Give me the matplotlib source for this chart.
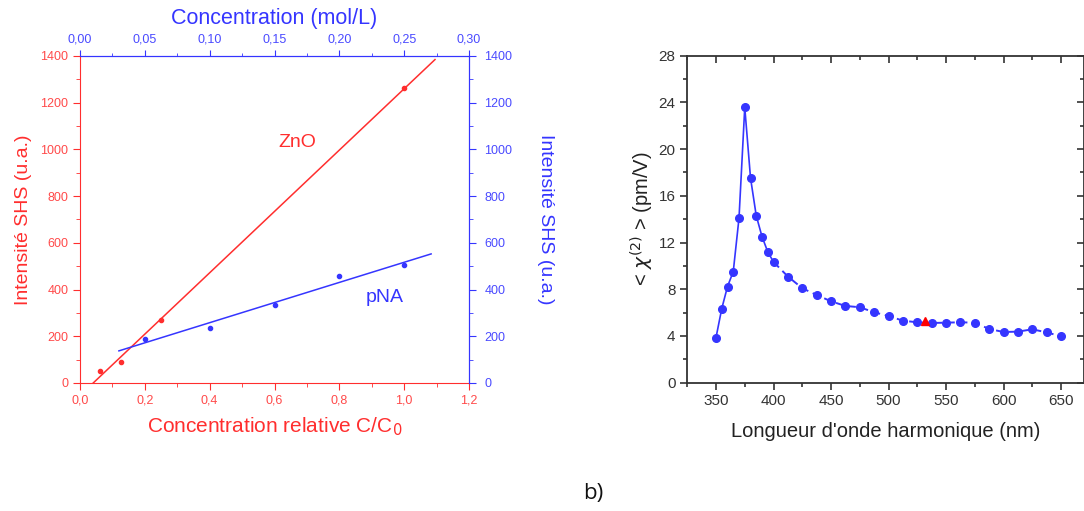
import matplotlib

matplotlib.use("Agg")
import matplotlib.pyplot as plt  # noqa: E402
import numpy as np  # noqa: E402
from matplotlib.ticker import MultipleLocator  # noqa: E402

plt.rcParams["font.family"] = ["Liberation Sans", "DejaVu Sans"]

RED = "#ff2e2e"
BLUE = "#3535ff"
RED_TXT = "#ff4a4a"
BLUE_TXT = "#4a4aff"

# --- left panel: SHS intensity vs relative concentration ---
zno_c = [0.0625, 0.125, 0.25, 1.0]
zno_i = [51, 90, 271, 1262]
pna_c = [0.2, 0.4, 0.6, 0.8, 1.0]
pna_i = [187, 235, 335, 459, 506]
zno_fit_range = [0.0, 1.095]
pna_fit_range = [0.12, 1.083]
c0_mol = 0.25  # C/C0 = 1 <-> 0.25 mol/L

rel_ticks = [0.0, 0.2, 0.4, 0.6, 0.8, 1.0, 1.2]
rel_labels = ["0,0", "0,2", "0,4", "0,6", "0,8", "1,0", "1,2"]
mol_ticks = [0.0, 0.05, 0.10, 0.15, 0.20, 0.25, 0.30]
mol_labels = ["0,00", "0,05", "0,10", "0,15", "0,20", "0,25", "0,30"]

# --- right panel: <chi(2)> vs harmonic wavelength ---
wl = [350, 355, 360, 365, 370, 375, 380, 385, 390, 395, 400,
      412.5, 425, 437.5, 450, 462.5, 475, 487.5, 500, 512.5, 525, 537.5,
      550, 562.5, 575, 587.5, 600, 612.5, 625, 637.5, 650]
chi = [3.86, 6.34, 8.23, 9.51, 14.09, 23.57, 17.54, 14.29, 12.51, 11.2, 10.34,
       9.09, 8.09, 7.51, 6.97, 6.57, 6.46, 6.03, 5.71, 5.31, 5.17, 5.11,
       5.14, 5.17, 5.14, 4.6, 4.34, 4.37, 4.57, 4.31, 3.97]
ref_wl = [532]
ref_chi = [5.31]
n_solid = 11  # solid line up to 400 nm, dashed afterwards

fig = plt.figure(figsize=(10.84, 5.11), dpi=100)

# left panel
ax = fig.add_axes([0.0738, 0.2505, 0.3589, 0.640])
ax.set_xlim(0, 1.2)
ax.set_ylim(0, 1400)
ax.plot(zno_c, zno_i, "o", color=RED, ms=3)
k, b = np.polyfit(zno_c, zno_i, 1)
xs = np.array(zno_fit_range)
ax.plot(xs, k * xs + b, color=RED, lw=1.1)
ax.set_xticks(rel_ticks)
ax.set_xticklabels(rel_labels)
ax.xaxis.set_minor_locator(MultipleLocator(0.1))
ax.yaxis.set_major_locator(MultipleLocator(200))
ax.yaxis.set_minor_locator(MultipleLocator(100))
ax.tick_params(which="both", colors=RED, labelcolor=RED_TXT, labelsize=9, direction="out")
ax.tick_params(which="major", length=5)
ax.tick_params(which="minor", length=3)
ax.spines["left"].set_color(RED)
ax.spines["bottom"].set_color(RED)
ax.spines["top"].set_color(BLUE)
ax.spines["right"].set_color(BLUE)
ax.set_xlabel("Concentration relative C/C$_0$", color=RED, fontsize=15, labelpad=6)
ax.set_ylabel("Intensité SHS (u.a.)", color=RED, fontsize=14, labelpad=6)
ax.text(0.67, 1030, "ZnO", color=RED, fontsize=14, ha="center", va="center")

ax2 = ax.twinx()
ax2.set_ylim(0, 1400)
ax2.plot(pna_c, pna_i, "o", color=BLUE, ms=3)
k2, b2 = np.polyfit(pna_c, pna_i, 1)
xs2 = np.array(pna_fit_range)
ax2.plot(xs2, k2 * xs2 + b2, color=BLUE, lw=1.1)
ax2.yaxis.set_major_locator(MultipleLocator(200))
ax2.yaxis.set_minor_locator(MultipleLocator(100))
ax2.tick_params(which="both", colors=BLUE, labelcolor=BLUE_TXT, labelsize=9, direction="out",
                pad=6)
ax2.tick_params(which="major", length=5)
ax2.tick_params(which="minor", length=3)
for s in ax2.spines.values():
    s.set_visible(False)
ax2.spines["right"].set_visible(True)
ax2.spines["right"].set_color(BLUE)
ax2.set_ylabel("Intensité SHS (u.a.)", color=BLUE, fontsize=14, rotation=270, labelpad=30)
ax2.text(0.94, 368, "pNA", color=BLUE, fontsize=14, ha="center", va="center")

top = ax.secondary_xaxis("top", functions=(lambda x: x * c0_mol, lambda x: x / c0_mol))
top.set_xticks(mol_ticks)
top.set_xticklabels(mol_labels)
top.xaxis.set_minor_locator(MultipleLocator(0.025))
top.tick_params(which="both", colors=BLUE, labelcolor=BLUE_TXT, labelsize=9, direction="out")
top.tick_params(which="major", length=4)
top.tick_params(which="minor", length=2.5)
top.spines["top"].set_color(BLUE)
top.set_xlabel("Concentration (mol/L)", color=BLUE, fontsize=15.5, labelpad=7)

# right panel
bx = fig.add_axes([0.634, 0.2511, 0.366, 0.640])
bx.set_xlim(325, 670)
bx.set_ylim(0, 28)
bx.plot(wl[:n_solid], chi[:n_solid], "-", color=BLUE, lw=1.2)
bx.plot(wl[n_solid - 1:], chi[n_solid - 1:], "--", color=BLUE, lw=1.4, dashes=(4, 2.5))
bx.plot(wl, chi, "o", color=BLUE, ms=5.5)
bx.plot(ref_wl, ref_chi, "^", color="red", ms=6)
bx.xaxis.set_major_locator(MultipleLocator(50))
bx.xaxis.set_minor_locator(MultipleLocator(25))
bx.yaxis.set_major_locator(MultipleLocator(4))
bx.yaxis.set_minor_locator(MultipleLocator(2))
bx.tick_params(which="both", direction="out", colors="#333333", labelsize=11, width=1.2,
               top=True, right=True)
bx.tick_params(which="major", length=5)
bx.tick_params(which="minor", length=3)
for s in bx.spines.values():
    s.set_color("#333333")
    s.set_linewidth(1.3)
bx.set_xlabel("Longueur d'onde harmonique (nm)", fontsize=14.5, color="#222222", labelpad=10)
bx.set_ylabel(r"< $\chi^{(2)}$ > (pm/V)", fontsize=14.5, color="#222222", labelpad=2)
# top/right ticks point inward
for t in bx.xaxis.get_major_ticks() + bx.xaxis.get_minor_ticks():
    t.tick2line.set_marker(3)
for t in bx.yaxis.get_major_ticks() + bx.yaxis.get_minor_ticks():
    t.tick2line.set_marker(0)

fig.text(0.547, 0.035, "b)", fontsize=16, color="#111111", ha="center", va="center",
         family=["Open Sans", "DejaVu Sans"])

fig.savefig("out.png", dpi=100)
